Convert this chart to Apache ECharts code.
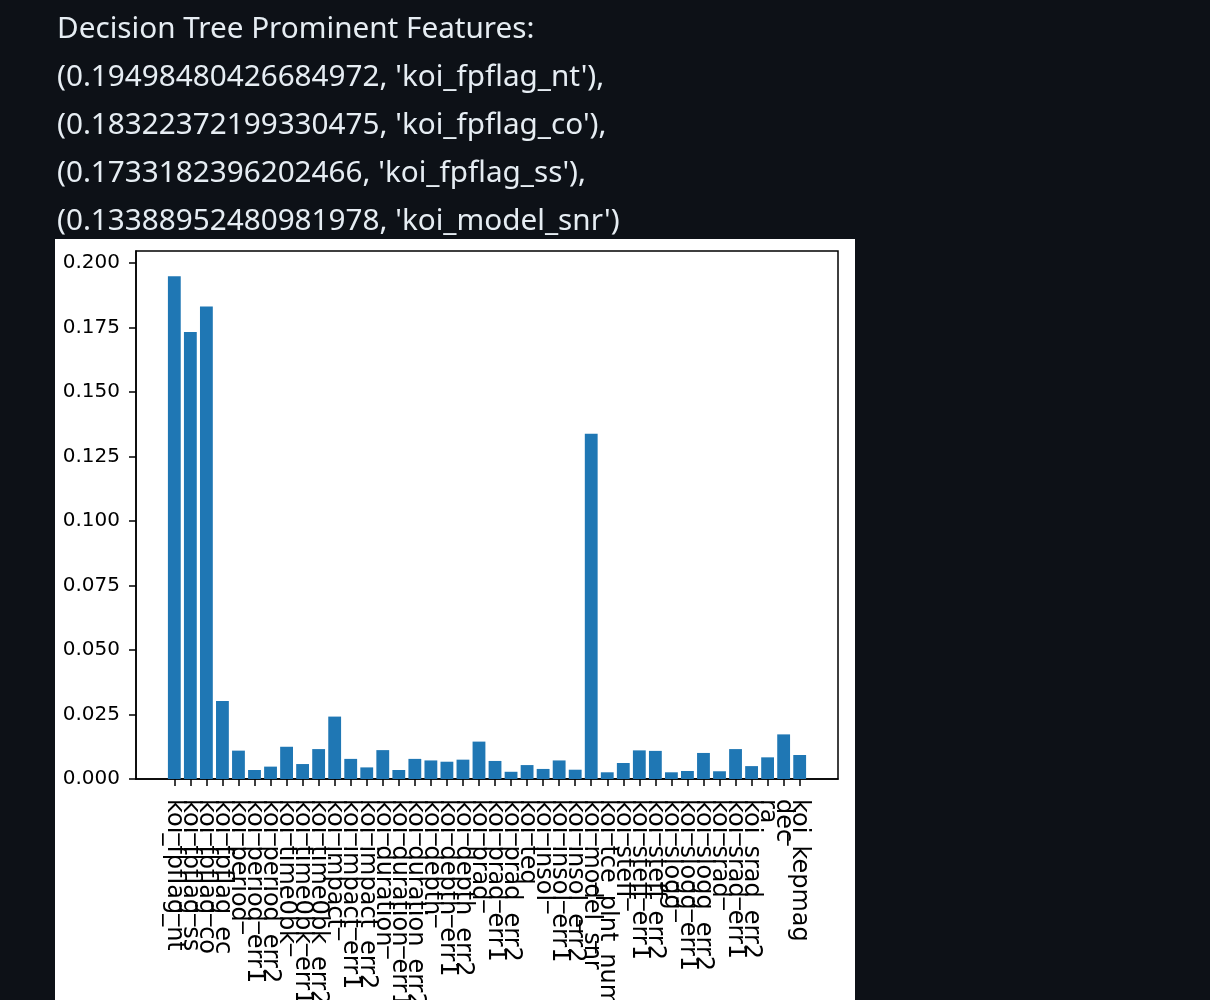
<!DOCTYPE html>
<html><head><meta charset="utf-8">
<script src="https://cdn.jsdelivr.net/npm/echarts@6/dist/echarts.min.js"></script>
<style>
html,body{margin:0;padding:0;background:#0d1117;width:1210px;height:1000px;overflow:hidden}
#panel{position:absolute;left:55px;top:239px;width:800px;height:761px;background:#fff}
#chart{position:absolute;left:0;top:0;width:1210px;height:1000px}
</style></head><body>
<div id="panel"></div><div id="chart"></div>
<script>
const headerLines = [
  "Decision Tree Prominent Features:",
  "(0.19498480426684972, 'koi_fpflag_nt'),",
  "(0.18322372199330475, 'koi_fpflag_co'),",
  "(0.1733182396202466, 'koi_fpflag_ss'),",
  "(0.13388952480981978, 'koi_model_snr')"
];
const features = [
  "koi_fpflag_nt","koi_fpflag_ss","koi_fpflag_co","koi_fpflag_ec",
  "koi_period","koi_period_err1","koi_period_err2",
  "koi_time0bk","koi_time0bk_err1","koi_time0bk_err2",
  "koi_impact","koi_impact_err1","koi_impact_err2",
  "koi_duration","koi_duration_err1","koi_duration_err2",
  "koi_depth","koi_depth_err1","koi_depth_err2",
  "koi_prad","koi_prad_err1","koi_prad_err2",
  "koi_teq","koi_insol","koi_insol_err1","koi_insol_err2",
  "koi_model_snr","koi_tce_plnt_num",
  "koi_steff","koi_steff_err1","koi_steff_err2",
  "koi_slogg","koi_slogg_err1","koi_slogg_err2",
  "koi_srad","koi_srad_err1","koi_srad_err2",
  "ra","dec","koi_kepmag"
];
const importances = [
  0.19498480426684972, 0.1733182396202466, 0.18322372199330475, 0.0302,
  0.0110, 0.0035, 0.0048,
  0.0125, 0.0058, 0.0116,
  0.0242, 0.0078, 0.0045,
  0.0112, 0.0035, 0.0078,
  0.0072, 0.0067, 0.0075,
  0.0145, 0.0070, 0.0028,
  0.0054, 0.0039, 0.0072, 0.0036,
  0.13388952480981978, 0.0026,
  0.0062, 0.0111, 0.0109,
  0.0026, 0.0031, 0.0101,
  0.0030, 0.0116, 0.0050,
  0.0084, 0.0173, 0.0093
];
const yTicks = [0, 0.025, 0.05, 0.075, 0.1, 0.125, 0.15, 0.175, 0.2];

const chart = echarts.init(document.getElementById('chart'), null, {renderer: 'canvas'});
const n = features.length;
const xPad = 0.4 + 0.05 * (n - 1 + 0.8);
const yMax = Math.max.apply(null, importances) * 1.05;
const positions = features.map((_, i) => i);
// blank guard labels at both ends so no real label is treated as min/max label
const labelPositions = [-2].concat(positions, [n + 1]);

chart.setOption({
  backgroundColor: 'transparent',
  animation: false,
  title: {
    text: headerLines.join('\n'),
    left: 57, top: 6, padding: 0,
    textStyle: {
      fontFamily: 'Noto Sans', fontSize: 29.7, lineHeight: 48,
      fontWeight: 'normal', color: '#e6edf3'
    }
  },
  grid: {
    left: 136, top: 251, width: 702, height: 528,
    outerBoundsMode: 'none', containLabel: false,
    show: true, borderColor: '#000', borderWidth: 1.5, backgroundColor: 'transparent'
  },
  xAxis: {
    type: 'value',
    min: -xPad, max: n - 1 + xPad,
    splitLine: {show: false},
    axisLine: {show: true, onZero: false, lineStyle: {color: '#000', width: 1.5}},
    axisTick: {show: true, length: 7, lineStyle: {color: '#000', width: 1.5}, customValues: positions},
    axisLabel: {
      show: true, rotate: -90, margin: 20, hideOverlap: false,
      fontFamily: 'DejaVu Sans', fontSize: 24, color: '#000',
      customValues: labelPositions,
      formatter: v => features[Math.round(v)] || ' '
    }
  },
  yAxis: {
    type: 'value',
    min: 0, max: yMax,
    splitLine: {show: false},
    axisLine: {show: true, onZero: false, lineStyle: {color: '#000', width: 1.5}},
    axisTick: {show: true, length: 7, lineStyle: {color: '#000', width: 1.5}, customValues: yTicks},
    axisLabel: {
      show: true, margin: 16,
      fontFamily: 'DejaVu Sans', fontSize: 20, color: '#000',
      customValues: yTicks,
      formatter: v => v.toFixed(3)
    }
  },
  series: [{
    type: 'bar',
    data: importances.map((v, i) => [i, v]),
    barWidth: '80%',
    itemStyle: {color: '#1f77b4'}
  }]
});
</script>
</body></html>
